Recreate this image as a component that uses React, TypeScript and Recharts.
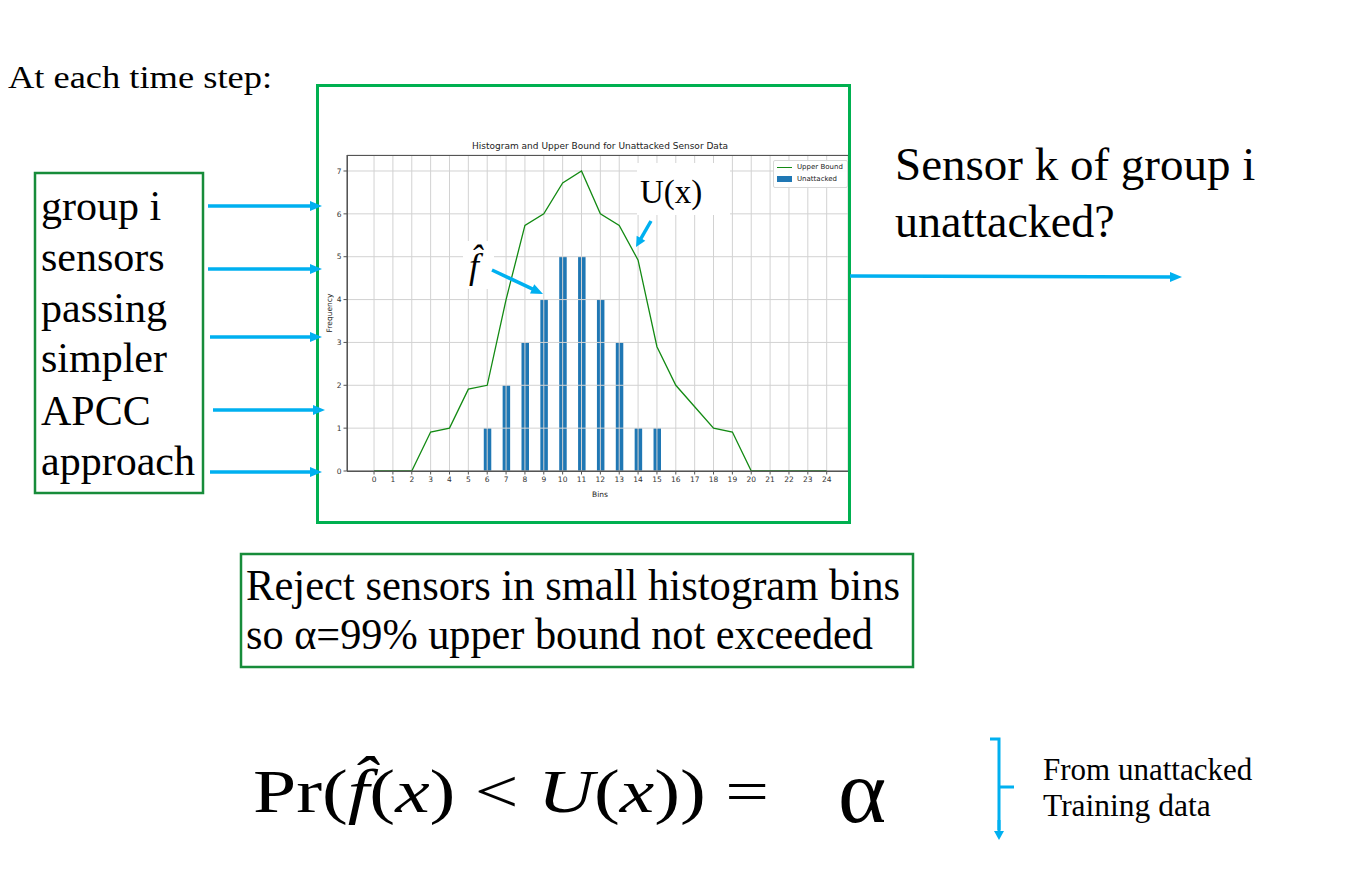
import React from 'react';
import { ComposedChart, Bar, Line, XAxis, YAxis, CartesianGrid, Legend } from 'recharts';

const bins = [0, 1, 2, 3, 4, 5, 6, 7, 8, 9, 10, 11, 12, 13, 14, 15, 16, 17, 18, 19, 20, 21, 22, 23, 24];
const unattacked = [0, 0, 0, 0, 0, 0, 1, 2, 3, 4, 5, 5, 4, 3, 1, 1, 0, 0, 0, 0, 0, 0, 0, 0, 0];
const upperBound = [0, 0, 0, 0.91, 1.0, 1.91, 2.0, 4.0, 5.73, 6.0, 6.72, 7.0, 6.0, 5.73, 4.92, 2.9, 2.0, 1.5, 1.0, 0.91, 0, 0, 0, 0, 0];
const yTicks = [0, 1, 2, 3, 4, 5, 6, 7];
const sideLines = ['group i', 'sensors', 'passing', 'simpler', 'APCC', 'approach'];

const data = bins.map((b, i) => ({ bin: b, unattacked: unattacked[i], upper: upperBound[i] }));

const CW = 536;
const CH = 441;
const MARGIN = { top: 72, right: 4, left: 0, bottom: 0 };
const XDOM: [number, number] = [-1.434, 25.13];
const YDOM: [number, number] = [0, 7.373];
const CHART_FONT = 'DejaVu Sans, sans-serif';
const SERIF = 'Liberation Serif, Times New Roman, serif';
const CYAN = '#00B0F0';

function Arrow({ x1, y1, x2, y2, w = 3.5, L = 12, W = 10 }: any) {
  const dx = x2 - x1;
  const dy = y2 - y1;
  const len = Math.hypot(dx, dy);
  const ux = dx / len;
  const uy = dy / len;
  const nx = -uy;
  const ny = ux;
  const bx = x2 - ux * L;
  const by = y2 - uy * L;
  const ex = x2 - ux * L * 0.6;
  const ey = y2 - uy * L * 0.6;
  return (
    <g>
      <line x1={x1} y1={y1} x2={ex} y2={ey} stroke={CYAN} strokeWidth={w} />
      <polygon
        points={`${x2},${y2} ${bx + (nx * W) / 2},${by + (ny * W) / 2} ${bx - (nx * W) / 2},${by - (ny * W) / 2}`}
        fill={CYAN}
      />
    </g>
  );
}

function LegendBox() {
  return (
    <div
      style={{
        width: 75,
        height: 28,
        border: '1px solid #d8d8d8',
        borderRadius: 2,
        background: 'rgba(255,255,255,0.9)',
        boxSizing: 'border-box',
        fontFamily: CHART_FONT,
        fontSize: 7,
        color: '#222',
        position: 'relative',
        whiteSpace: 'nowrap',
      }}
    >
      <div style={{ position: 'absolute', left: 3, top: 5.5, width: 15, height: 1.5, background: '#138a13' }} />
      <div style={{ position: 'absolute', left: 23, top: 1, lineHeight: '10px' }}>Upper Bound</div>
      <div style={{ position: 'absolute', left: 3, top: 15, width: 15, height: 6, background: '#1f77b4' }} />
      <div style={{ position: 'absolute', left: 23, top: 13, lineHeight: '10px' }}>Unattacked</div>
    </div>
  );
}

export default function App() {
  return (
    <div style={{ position: 'absolute', left: 0, top: 0, width: 1365, height: 869, background: '#fff', overflow: 'hidden' }}>
      {/* bars layer (beneath grid, as in matplotlib) */}
      <div style={{ position: 'absolute', left: 316, top: 83 }}>
        <ComposedChart width={CW} height={CH} data={data} margin={{ top: 72, right: 4, left: 31, bottom: 53 }}>
          <XAxis dataKey="bin" type="number" domain={XDOM} hide />
          <YAxis type="number" domain={YDOM} hide />
          <Bar dataKey="unattacked" fill="#1f77b4" barSize={7.5} isAnimationActive={false} />
        </ComposedChart>
      </div>
      {/* grid, axes, line, legend */}
      <div style={{ position: 'absolute', left: 316, top: 83 }}>
        <ComposedChart width={CW} height={CH} data={data} margin={MARGIN}>
          <CartesianGrid stroke="#d2d2d2" strokeWidth={1} />
          <XAxis
            dataKey="bin"
            type="number"
            domain={XDOM}
            ticks={bins}
            interval={0}
            allowDataOverflow
            height={53}
            stroke="#555"
            tickSize={3.5}
            tickMargin={2}
            tick={{ fontSize: 7.5, fill: '#333', fontFamily: CHART_FONT }}
          />
          <YAxis
            type="number"
            domain={YDOM}
            ticks={yTicks}
            allowDataOverflow
            width={31}
            stroke="#555"
            tickSize={3.5}
            tickMargin={2}
            tick={{ fontSize: 7.5, fill: '#333', fontFamily: CHART_FONT }}
          />
          <Line
            dataKey="upper"
            type="linear"
            stroke="#138a13"
            strokeWidth={1.3}
            dot={false}
            isAnimationActive={false}
          />
          <Legend
            layout="vertical"
            align="center"
            verticalAlign="middle"
            wrapperStyle={{ position: 'absolute', left: 457, top: 77, width: 75, height: 28 }}
            content={() => <LegendBox />}
          />
        </ComposedChart>
      </div>
      {/* plot frame */}
      <div style={{ position: 'absolute', left: 347, top: 155, width: 502, height: 317, border: '1px solid #555', boxSizing: 'border-box' }} />

      <svg width={1365} height={869} style={{ position: 'absolute', left: 0, top: 0, pointerEvents: 'none' }}>
        {/* chart texts */}
        <text x={600} y={149} fontSize={9} fontFamily={CHART_FONT} fill="#222" textAnchor="middle">
          Histogram and Upper Bound for Unattacked Sensor Data
        </text>
        <text x={600} y={497} fontSize={7.5} fontFamily={CHART_FONT} fill="#222" textAnchor="middle">
          Bins
        </text>
        <text x={332} y={313} fontSize={7.5} fontFamily={CHART_FONT} fill="#222" textAnchor="middle" transform="rotate(-90 332 313)">
          Frequency
        </text>

        {/* chart border */}
        <rect x={317.5} y={85.5} width={532} height={437} fill="none" stroke="#00B050" strokeWidth={3} />

        {/* annotation boxes */}
        <rect x={637} y={163} width={93} height={52} fill="#fff" />
        <text x={640} y={203} fontSize={33} fontFamily={SERIF} fill="#000">U(x)</text>
        <Arrow x1={651} y1={221} x2={636} y2={247} w={3.5} L={10} W={10} />

        <rect x={463} y={241} width={31} height={48} fill="#fff" />
        <text x={469} y={278} fontSize={36} fontFamily={SERIF} fontStyle="italic" fill="#000">{'f\u0302'}</text>
        <Arrow x1={492} y1={270} x2={543} y2={294} w={3.5} L={12} W={10} />

        {/* top text */}
        <text x={8} y={88} fontSize={32} fontFamily={SERIF} fill="#000" textLength={264} lengthAdjust="spacingAndGlyphs">
          At each time step:
        </text>

        {/* left box */}
        <rect x={35} y={173} width={168} height={320} fill="none" stroke="#178c3a" strokeWidth={2.5} />
        {sideLines.map((t, i) => (
          <text key={t} x={41} y={[220, 271, 322, 372, 425, 475][i]} fontSize={42} fontFamily={SERIF} fill="#000">
            {t}
          </text>
        ))}
        <Arrow x1={208} y1={206} x2={322} y2={206} />
        <Arrow x1={208} y1={269} x2={322} y2={269} />
        <Arrow x1={210} y1={337} x2={322} y2={337} />
        <Arrow x1={213} y1={410} x2={325} y2={410} />
        <Arrow x1={210} y1={472} x2={322} y2={472} />

        {/* right text and arrow */}
        <text x={895} y={180} fontSize={47} fontFamily={SERIF} fill="#000">Sensor k of group i</text>
        <text x={895} y={237} fontSize={46} fontFamily={SERIF} fill="#000">unattacked?</text>
        <Arrow x1={850} y1={276} x2={1182} y2={277} />

        {/* reject box */}
        <rect x={241} y={554} width={672} height={113} fill="none" stroke="#178c3a" strokeWidth={2.5} />
        <text x={246} y={600} fontSize={44} fontFamily={SERIF} fill="#000" textLength={654} lengthAdjust="spacingAndGlyphs">
          Reject sensors in small histogram bins
        </text>
        <text x={246} y={649} fontSize={44} fontFamily={SERIF} fill="#000" textLength={627} lengthAdjust="spacingAndGlyphs">
          so α=99% upper bound not exceeded
        </text>

        {/* formula */}
        <text x={253} y={812} fontSize={62} fontFamily={SERIF} fill="#000" textLength={516} lengthAdjust="spacingAndGlyphs">
          Pr(<tspan fontStyle="italic">{'f\u0302'}</tspan>(<tspan fontStyle="italic">x</tspan>) &lt; <tspan fontStyle="italic">U</tspan>(<tspan fontStyle="italic">x</tspan>)) =
        </text>
        <text x={838} y={822} fontSize={92} fontFamily={SERIF} fill="#000">α</text>

        {/* bracket */}
        <path d="M990,739 L999,739 L999,830 M999,787 L1014,787" fill="none" stroke={CYAN} strokeWidth={3} />
        <Arrow x1={999} y1={820} x2={999} y2={840} w={3} L={9} W={10} />
        <text x={1043} y={780} fontSize={31} fontFamily={SERIF} fill="#000">From unattacked</text>
        <text x={1043} y={816} fontSize={31.5} fontFamily={SERIF} fill="#000">Training data</text>
      </svg>
    </div>
  );
}
